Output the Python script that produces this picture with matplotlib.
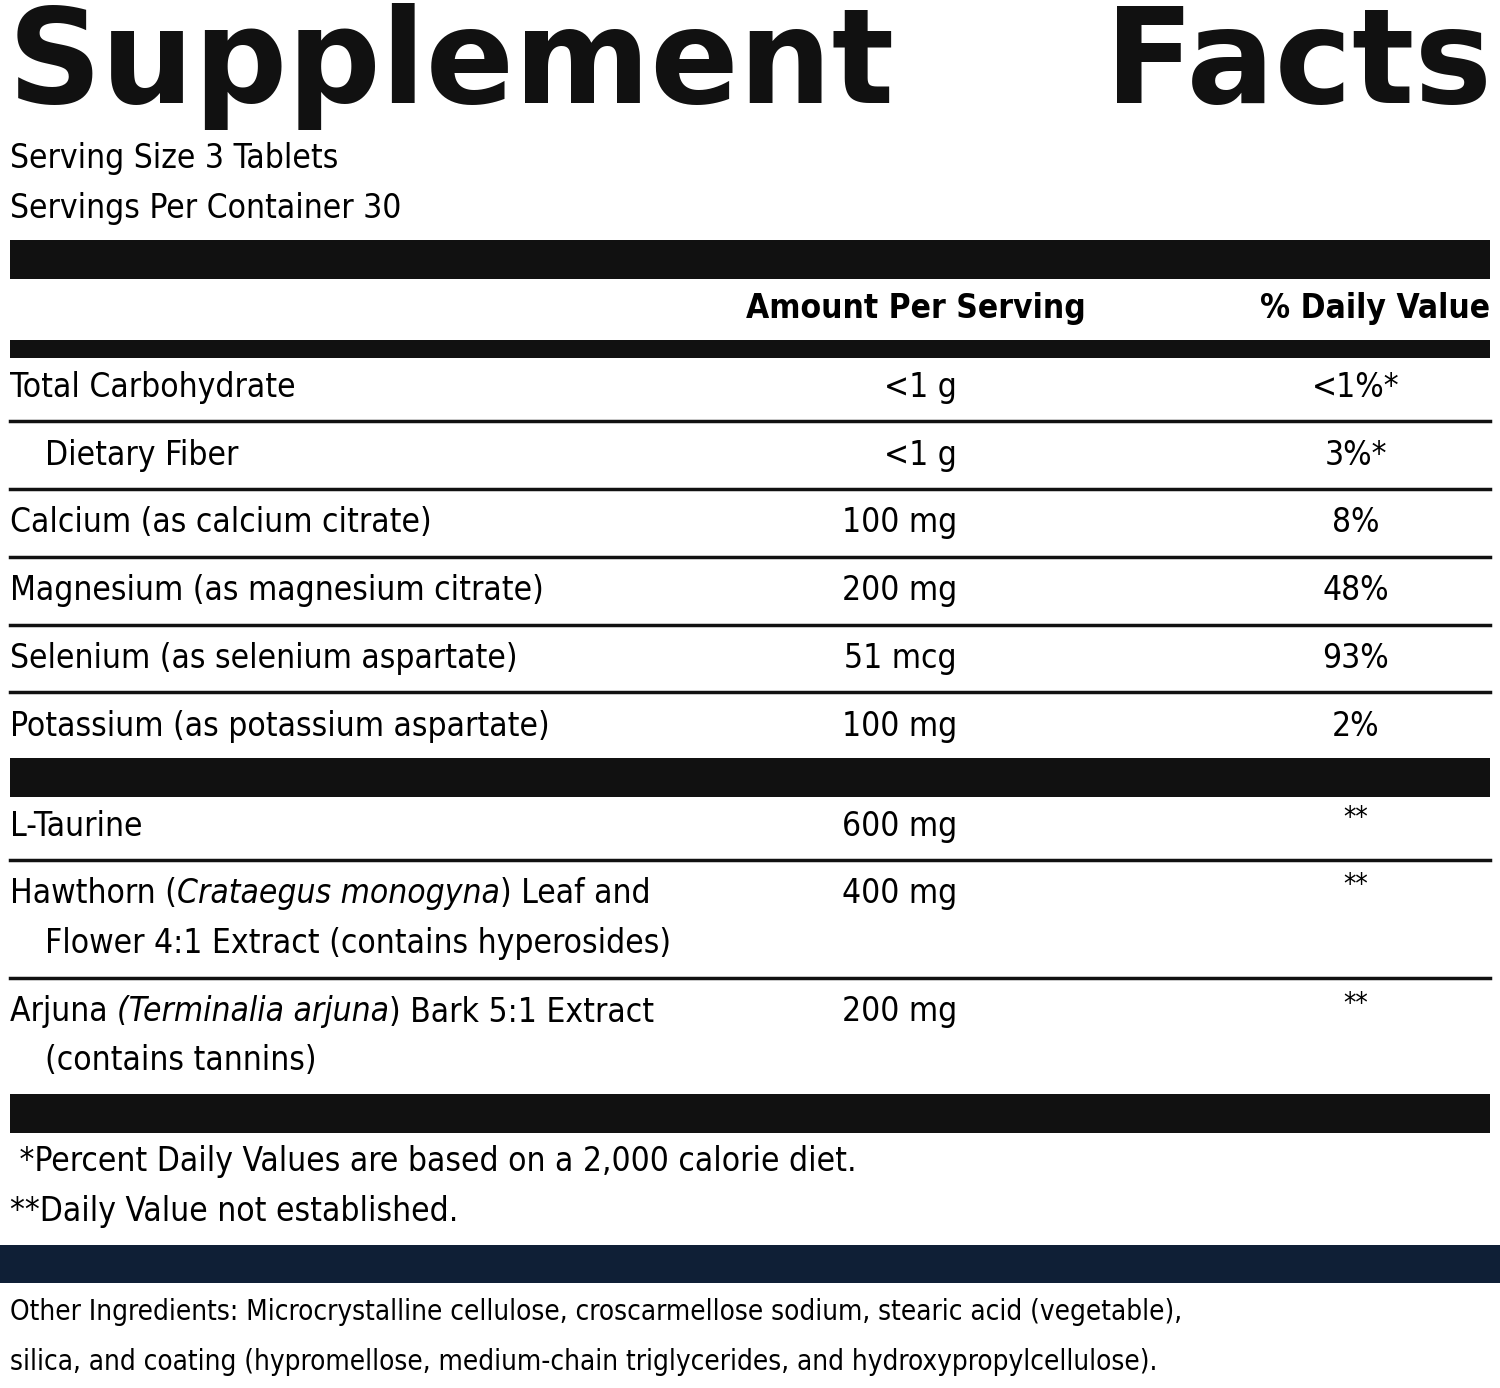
import matplotlib
matplotlib.use("Agg")
import matplotlib.pyplot as plt

FAM = ['DejaVu Sans']
ST = 'condensed'
title_words = ["Supplement", "Facts"]
serving = ["Serving Size 3 Tablets", "Servings Per Container 30"]
headers = ["Amount Per Serving", "% Daily Value"]
rows1 = [
    ([("Total Carbohydrate", False)], None, "<1 g", "<1%*"),
    ([("  Dietary Fiber", False)], None, "<1 g", "3%*"),
    ([("Calcium (as calcium citrate)", False)], None, "100 mg", "8%"),
    ([("Magnesium (as magnesium citrate)", False)], None, "200 mg", "48%"),
    ([("Selenium (as selenium aspartate)", False)], None, "51 mcg", "93%"),
    ([("Potassium (as potassium aspartate)", False)], None, "100 mg", "2%"),
]
rows2 = [
    ([("L-Taurine", False)], None, "600 mg", "**"),
    ([("Hawthorn (", False), ("Crataegus monogyna", True), (") Leaf and", False)],
     [("Flower 4:1 Extract (contains hyperosides)", False)], "400 mg", "**"),
    ([("Arjuna ", False), ("(Terminalia arjuna", True), (") Bark 5:1 Extract", False)],
     [("(contains tannins)", False)], "200 mg", "**"),
]
footnotes = [" *Percent Daily Values are based on a 2,000 calorie diet.", "**Daily Value not established."]
other = ["Other Ingredients: Microcrystalline cellulose, croscarmellose sodium, stearic acid (vegetable),",
         "silica, and coating (hypromellose, medium-chain triglycerides, and hydroxypropylcellulose)."]

fig = plt.figure(figsize=(15, 13.88), dpi=100)
ax = fig.add_axes([0, 0, 1, 1])
ax.set_xlim(0, 1500); ax.set_ylim(1388, 0); ax.axis('off')
fig.canvas.draw()
rend = fig.canvas.get_renderer()
FS = 24

def T(x, y, s, fs=FS, **kw):
    return ax.text(x, y, s, fontsize=fs, family=FAM, stretch=ST, va='center', **kw)

def seg_text(x, y, segs):
    for s, it in segs:
        t = T(x, y, s, style='italic' if it else 'normal', ha='left')
        x += t.get_window_extent(renderer=rend).width

def bar(y0, y1, x0=10, x1=1490, color='#111111'):
    ax.fill_between([x0, x1], y0, y1, color=color, lw=0)

def line(y):
    ax.plot([10, 1490], [y, y], color='#111111', lw=2.5)

ax.text(8, 103, title_words[0], fontsize=94, weight='heavy', family='DejaVu Sans', va='baseline', ha='left', color='#111111')
ax.text(1492, 103, title_words[1], fontsize=94, weight='heavy', family='DejaVu Sans', va='baseline', ha='right', color='#111111')
T(10, 158, serving[0]); T(10, 208, serving[1])
bar(240, 279)
T(1086, 308, headers[0], weight='bold', ha='right')
T(1490, 308, headers[1], weight='bold', ha='right')
bar(340, 358)

ys1 = [387, 455, 522, 590, 658, 726]
for (s1, s2, amt, dv), y in zip(rows1, ys1):
    if s1[0][0].startswith("  "):
        seg_text(45, y, [(s1[0][0].strip(), False)])
    else:
        seg_text(10, y, s1)
    T(957, y, amt, ha='right')
    T(1356, y, dv, ha='center')
for l in [421, 489, 557, 625, 692]:
    line(l)
bar(758, 797)

ys2 = [(826, None), (893, 943), (1012, 1060)]
for (s1, s2, amt, dv), (y1, y2) in zip(rows2, ys2):
    seg_text(10, y1, s1)
    if s2:
        seg_text(45, y2, s2)
    T(957, y1, amt, ha='right')
    T(1356, y1 - 8, dv, fs=20, ha='center')
line(860); line(978)
bar(1094, 1133)
T(10, 1162, footnotes[0]); T(10, 1212, footnotes[1])
bar(1245, 1283, 0, 1500, '#0f1f36')
T(10, 1312, other[0], fs=20); T(10, 1362, other[1], fs=20)
fig.savefig("out.png", dpi=100)
